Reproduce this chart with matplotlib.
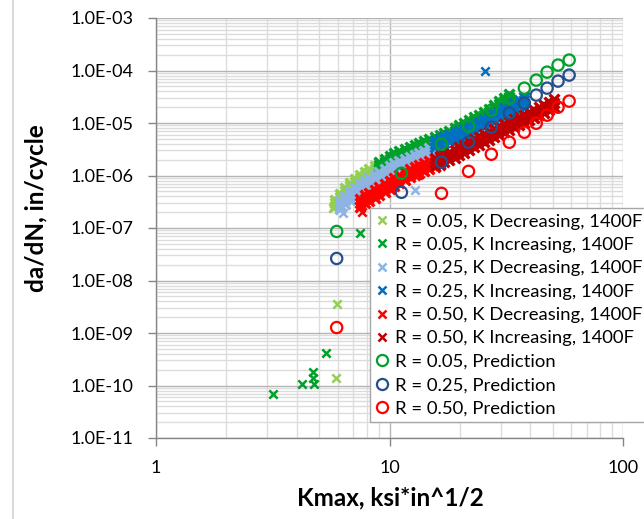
import matplotlib

matplotlib.use("Agg")
import matplotlib.pyplot as plt
from matplotlib.lines import Line2D
from matplotlib.ticker import FuncFormatter, LogLocator, NullFormatter

plt.rcParams["font.family"] = ["Lato", "DejaVu Sans"]

# ---- data (Kmax in ksi*in^1/2, da/dN in in/cycle) ----
# dense test bands are given as upper edge, middle and lower edge at each Kmax

# R = 0.05, K decreasing
r05_dec_k = [5.82, 6.11, 6.42, 6.75, 7.09, 7.44, 7.82, 8.21, 8.63, 9.06, 9.52]
r05_dec_hi = [3.36e-7, 4.38e-7, 5.70e-7, 7.10e-7, 8.46e-7, 1.01e-6, 1.15e-6,
              1.31e-6, 1.50e-6, 1.71e-6, 1.95e-6]
r05_dec_mid = [2.95e-7, 3.84e-7, 5.00e-7, 6.22e-7, 7.42e-7, 8.84e-7, 1.01e-6,
               1.15e-6, 1.31e-6, 1.50e-6, 1.71e-6]
r05_dec_lo = [2.58e-7, 3.36e-7, 4.38e-7, 5.45e-7, 6.50e-7, 7.75e-7, 8.84e-7,
              1.01e-6, 1.15e-6, 1.31e-6, 1.50e-6]
r05_dec_out_k = [5.71, 5.94, 5.88]
r05_dec_out_y = [2.37e-7, 3.5e-9, 1.41e-10]

# R = 0.05, K increasing
r05_inc_k = [9.06, 9.52, 10.0, 10.5, 11.0, 11.6, 12.2, 12.8, 13.4, 14.1, 14.8,
             15.6, 16.4, 17.2, 18.0, 19.0, 19.9, 20.9, 22.0, 23.1, 24.2, 25.5,
             26.8, 28.1, 29.5, 31.0, 32.6]
r05_inc_hi = [1.79e-6, 2.04e-6, 2.33e-6, 2.65e-6, 2.90e-6, 3.16e-6, 3.45e-6,
              3.77e-6, 4.12e-6, 4.49e-6, 4.91e-6, 5.36e-6, 5.85e-6, 6.39e-6,
              6.97e-6, 7.96e-6, 9.08e-6, 9.91e-6, 1.13e-5, 1.29e-5, 1.41e-5,
              1.61e-5, 1.83e-5, 2.19e-5, 2.61e-5, 2.97e-5, 3.55e-5]
r05_inc_mid = [1.57e-6, 1.79e-6, 2.04e-6, 2.33e-6, 2.54e-6, 2.77e-6, 3.03e-6,
               3.30e-6, 3.61e-6, 3.94e-6, 4.30e-6, 4.70e-6, 5.13e-6, 5.60e-6,
               6.11e-6, 6.97e-6, 7.96e-6, 8.69e-6, 9.91e-6, 1.13e-5, 1.24e-5,
               1.41e-5, 1.61e-5, 1.92e-5, 2.29e-5, 2.61e-5, 3.11e-5]
r05_inc_lo = [1.37e-6, 1.57e-6, 1.79e-6, 2.04e-6, 2.23e-6, 2.43e-6, 2.65e-6,
              2.90e-6, 3.16e-6, 3.45e-6, 3.77e-6, 4.12e-6, 4.49e-6, 4.91e-6,
              5.36e-6, 6.11e-6, 6.97e-6, 7.61e-6, 8.69e-6, 9.91e-6, 1.08e-5,
              1.24e-5, 1.41e-5, 1.68e-5, 2.00e-5, 2.29e-5, 2.72e-5]
r05_inc_out_k = [7.44, 5.33, 4.69, 4.72, 4.21, 4.73, 3.16]
r05_inc_out_y = [7.9e-8, 4.2e-10, 1.83e-10, 1.41e-10, 1.08e-10, 1.08e-10, 7.0e-11]

# R = 0.25, K decreasing
r25_dec_k = [6.11, 6.42, 6.75, 7.09, 7.44, 7.82, 8.21, 8.63, 9.06, 9.52, 10.0,
             10.5, 11.0, 11.6, 12.2, 12.8, 13.4, 14.1, 14.8, 15.6, 16.4]
r25_dec_hi = [3.22e-7, 4.01e-7, 4.78e-7, 5.70e-7, 6.79e-7, 7.75e-7, 8.84e-7,
              1.01e-6, 1.15e-6, 1.31e-6, 1.50e-6, 1.71e-6, 1.87e-6, 2.04e-6,
              2.23e-6, 2.43e-6, 2.65e-6, 2.90e-6, 3.30e-6, 3.61e-6, 3.94e-6]
r25_dec_mid = [2.70e-7, 3.36e-7, 4.01e-7, 4.78e-7, 5.70e-7, 6.50e-7, 7.42e-7,
               8.46e-7, 9.65e-7, 1.10e-6, 1.26e-6, 1.43e-6, 1.57e-6, 1.71e-6,
               1.87e-6, 2.04e-6, 2.23e-6, 2.43e-6, 2.77e-6, 3.03e-6, 3.30e-6]
r25_dec_lo = [2.27e-7, 2.82e-7, 3.36e-7, 4.01e-7, 4.78e-7, 5.45e-7, 6.22e-7,
              7.10e-7, 8.10e-7, 9.24e-7, 1.05e-6, 1.20e-6, 1.31e-6, 1.43e-6,
              1.57e-6, 1.71e-6, 1.87e-6, 2.04e-6, 2.33e-6, 2.54e-6, 2.77e-6]
r25_dec_out_k = [6.30, 12.8]
r25_dec_out_y = [1.90e-7, 5.22e-7]

# R = 0.25, K increasing
r25_inc_k = [15.6, 16.4, 17.2, 18.0, 19.0, 19.9, 20.9, 22.0, 23.1, 24.2, 25.5,
             26.8, 28.1, 29.5, 31.0, 32.6, 34.2, 35.9, 37.8]
r25_inc_hi = [4.49e-6, 4.91e-6, 5.36e-6, 5.85e-6, 6.39e-6, 6.97e-6, 7.61e-6,
              8.69e-6, 9.49e-6, 1.04e-5, 1.13e-5, 1.29e-5, 1.47e-5, 1.68e-5,
              1.92e-5, 2.09e-5, 2.39e-5, 2.72e-5, 3.11e-5]
r25_inc_mid = [3.94e-6, 4.30e-6, 4.70e-6, 5.13e-6, 5.60e-6, 6.11e-6, 6.67e-6,
               7.61e-6, 8.31e-6, 9.08e-6, 9.91e-6, 1.13e-5, 1.29e-5, 1.47e-5,
               1.68e-5, 1.83e-5, 2.09e-5, 2.39e-5, 2.72e-5]
r25_inc_lo = [3.45e-6, 3.77e-6, 4.12e-6, 4.49e-6, 4.91e-6, 5.36e-6, 5.85e-6,
              6.67e-6, 7.29e-6, 7.96e-6, 8.69e-6, 9.91e-6, 1.13e-5, 1.29e-5,
              1.47e-5, 1.61e-5, 1.83e-5, 2.09e-5, 2.39e-5]
r25_inc_out_k = [25.7]
r25_inc_out_y = [9.7e-5]

# R = 0.50, K decreasing
r50_dec_k = [7.44, 7.82, 8.21, 8.63, 9.06, 9.52, 10.0, 10.5, 11.0, 11.6, 12.2,
             12.8, 13.4, 14.1, 14.8, 15.6, 16.4]
r50_dec_hi = [3.51e-7, 4.19e-7, 4.57e-7, 5.22e-7, 5.95e-7, 6.79e-7, 7.75e-7,
              8.84e-7, 1.01e-6, 1.15e-6, 1.31e-6, 1.43e-6, 1.57e-6, 1.71e-6,
              1.87e-6, 2.04e-6, 2.23e-6]
r50_dec_mid = [2.95e-7, 3.51e-7, 3.84e-7, 4.38e-7, 5.00e-7, 5.70e-7, 6.50e-7,
               7.42e-7, 8.46e-7, 9.65e-7, 1.10e-6, 1.20e-6, 1.31e-6, 1.43e-6,
               1.57e-6, 1.71e-6, 1.87e-6]
r50_dec_lo = [2.47e-7, 2.95e-7, 3.22e-7, 3.67e-7, 4.19e-7, 4.78e-7, 5.45e-7,
              6.22e-7, 7.10e-7, 8.10e-7, 9.24e-7, 1.01e-6, 1.10e-6, 1.20e-6,
              1.31e-6, 1.43e-6, 1.57e-6]
r50_dec_out_k = [7.59, 13.2]
r50_dec_out_y = [1.99e-7, 1.01e-6]

# R = 0.50, K increasing
r50_inc_k = [15.6, 16.4, 17.2, 18.0, 19.0, 19.9, 20.9, 22.0, 23.1, 24.2, 25.5,
             26.8, 28.1, 29.5, 31.0, 32.6, 34.2, 35.9, 37.8, 39.6, 41.7, 43.8,
             46.0, 48.3, 50.7]
r50_inc_hi = [2.13e-6, 2.33e-6, 2.54e-6, 2.77e-6, 3.03e-6, 3.45e-6, 3.77e-6,
              4.30e-6, 4.91e-6, 5.36e-6, 6.11e-6, 6.67e-6, 7.61e-6, 8.31e-6,
              9.49e-6, 1.04e-5, 1.18e-5, 1.29e-5, 1.41e-5, 1.61e-5, 1.76e-5,
              2.00e-5, 2.19e-5, 2.49e-5, 2.85e-5]
r50_inc_mid = [1.79e-6, 1.95e-6, 2.13e-6, 2.33e-6, 2.54e-6, 2.90e-6, 3.16e-6,
               3.61e-6, 4.12e-6, 4.49e-6, 5.13e-6, 5.60e-6, 6.39e-6, 6.97e-6,
               7.96e-6, 8.69e-6, 9.91e-6, 1.08e-5, 1.18e-5, 1.35e-5, 1.47e-5,
               1.68e-5, 1.83e-5, 2.09e-5, 2.39e-5]
r50_inc_lo = [1.50e-6, 1.64e-6, 1.79e-6, 1.95e-6, 2.13e-6, 2.43e-6, 2.65e-6,
              3.03e-6, 3.45e-6, 3.77e-6, 4.30e-6, 4.70e-6, 5.36e-6, 5.85e-6,
              6.67e-6, 7.29e-6, 8.31e-6, 9.08e-6, 9.91e-6, 1.13e-5, 1.24e-5,
              1.41e-5, 1.54e-5, 1.76e-5, 2.00e-5]

# predictions (same Kmax for all three R values)
pred_k = [5.94, 11.25, 16.7, 21.8, 27.3, 32.6, 37.8, 42.5, 47.3, 52.7, 58.8]
pred_r05 = [8.6e-8, 1.10e-6, 3.94e-6, 8.7e-6, 1.75e-5, 2.97e-5, 4.61e-5,
            6.56e-5, 9.3e-5, 1.27e-4, 1.58e-4]
pred_r25 = [2.63e-8, 4.78e-7, 1.79e-6, 4.30e-6, 8.3e-6, 1.54e-5, 2.39e-5,
            3.40e-5, 4.61e-5, 6.28e-5, 8.17e-5]
pred_r50 = [1.27e-9, 1.3e-7, 4.57e-7, 1.20e-6, 2.54e-6, 4.30e-6, 6.67e-6,
            9.9e-6, 1.41e-5, 2.00e-5, 2.61e-5]

LIGHT_GREEN = "#92D050"
GREEN = "#00A02A"
LIGHT_BLUE = "#8DB4E2"
BLUE = "#0070C0"
RED = "#FF0000"
DARK_RED = "#C00000"
NAVY = "#254E8C"
AXIS = "#868686"

fig = plt.figure(figsize=(6.44, 5.19), dpi=100)
ax = fig.add_axes([156 / 644, 1 - 438 / 519, 467 / 644, 420 / 519])
ax.set_xscale("log")
ax.set_yscale("log")
ax.set_xlim(1, 100)
ax.set_ylim(1e-11, 1e-3)

tests = [
    (r05_dec_k, r05_dec_hi, r05_dec_mid, r05_dec_lo, r05_dec_out_k,
     r05_dec_out_y, LIGHT_GREEN, "R = 0.05, K Decreasing, 1400F"),
    (r05_inc_k, r05_inc_hi, r05_inc_mid, r05_inc_lo, r05_inc_out_k,
     r05_inc_out_y, GREEN, "R = 0.05, K Increasing, 1400F"),
    (r25_dec_k, r25_dec_hi, r25_dec_mid, r25_dec_lo, r25_dec_out_k,
     r25_dec_out_y, LIGHT_BLUE, "R = 0.25, K Decreasing, 1400F"),
    (r25_inc_k, r25_inc_hi, r25_inc_mid, r25_inc_lo, r25_inc_out_k,
     r25_inc_out_y, BLUE, "R = 0.25, K Increasing, 1400F"),
    (r50_dec_k, r50_dec_hi, r50_dec_mid, r50_dec_lo, r50_dec_out_k,
     r50_dec_out_y, RED, "R = 0.50, K Decreasing, 1400F"),
    (r50_inc_k, r50_inc_hi, r50_inc_mid, r50_inc_lo, [], [], DARK_RED,
     "R = 0.50, K Increasing, 1400F"),
]

handles = []
for i, (k, hi, mid, lo, ok, oy, col, lab) in enumerate(tests):
    # dense band: three rows of heavy crosses merge into one strip
    ax.scatter(k * 3, hi + mid + lo, marker="x", s=50, linewidths=2.4,
               color=col, zorder=3 + i)
    ax.scatter(ok, oy, marker="x", s=36, linewidths=1.8, color=col,
               zorder=3 + i)
    handles.append(Line2D([], [], ls="none", marker="x", ms=6, mew=1.8,
                          color=col, label=lab))

preds = [(pred_r05, GREEN, "R = 0.05, Prediction"),
         (pred_r25, NAVY, "R = 0.25, Prediction"),
         (pred_r50, RED, "R = 0.50, Prediction")]
for i, (y, col, lab) in enumerate(preds):
    ax.scatter(pred_k, y, marker="o", s=66, facecolors="none", edgecolors=col,
               linewidths=1.6, zorder=10 + i)
    handles.append(Line2D([], [], ls="none", marker="o", ms=8, mew=1.6,
                          mfc="none", mec=col, label=lab))

# grid and axes in the Excel look
ax.xaxis.set_major_locator(LogLocator(base=10, numticks=10))
ax.yaxis.set_major_locator(LogLocator(base=10, numticks=20))
ax.xaxis.set_minor_locator(LogLocator(base=10, subs=range(2, 10), numticks=20))
ax.yaxis.set_minor_locator(LogLocator(base=10, subs=range(2, 10), numticks=20))
ax.xaxis.set_minor_formatter(NullFormatter())
ax.yaxis.set_minor_formatter(NullFormatter())
ax.xaxis.set_major_formatter(FuncFormatter(lambda v, p: f"{v:g}"))
ax.yaxis.set_major_formatter(FuncFormatter(lambda v, p: f"{v:.1E}"))
ax.set_axisbelow(True)
ax.grid(True, which="major", color="#B4B4B4", lw=1.0)
ax.grid(True, which="minor", color="#DCDCDC", lw=1.0)
for s in ("top", "right"):
    ax.spines[s].set_visible(False)
for s in ("left", "bottom"):
    ax.spines[s].set_color(AXIS)
    ax.spines[s].set_linewidth(1.0)
ax.tick_params(which="major", length=6, width=1, color=AXIS, pad=10,
               labelsize=13, labelcolor="black")
ax.tick_params(which="minor", length=0)

fig.text(37 / 644, 1 - 208 / 519, "da/dN, in/cycle", rotation=90, ha="center",
         va="center", fontsize=17.5, fontweight="bold")
fig.text(390 / 644, 1 - 498 / 519, "Kmax, ksi*in^1/2", ha="center",
         va="center", fontsize=17.5, fontweight="bold")

leg = fig.legend(handles=handles, loc="upper left",
                 bbox_to_anchor=(370 / 644, 1 - 208 / 519), fontsize=13.3,
                 frameon=True, fancybox=False, framealpha=1, borderpad=0.3,
                 labelspacing=0.4, handlelength=0.7, handletextpad=0.35,
                 borderaxespad=0)
leg.get_frame().set_edgecolor("#A6A6A6")
leg.get_frame().set_linewidth(1.0)
leg.set_zorder(20)

# the chart area border on the left
fig.add_artist(Line2D([13 / 644, 13 / 644], [0, 1], color="#D9D9D9", lw=1.5,
                      transform=fig.transFigure))

fig.savefig("out.png", dpi=100)
